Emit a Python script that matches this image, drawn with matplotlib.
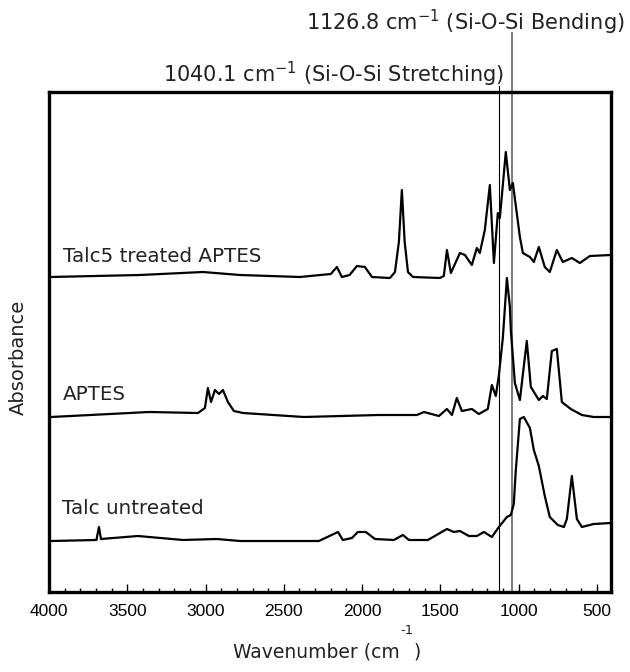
import numpy as np
import matplotlib
matplotlib.use("Agg")
import matplotlib.pyplot as plt
from matplotlib.ticker import MultipleLocator

# wavenumber (cm-1) and absorbance (a.u., offset stacked)
wn_treated = [3994, 3419, 3017, 2780, 2397, 2200, 2161, 2129, 2080, 2033, 1982, 1937,
              1822, 1790, 1765, 1746, 1728, 1707, 1675, 1503, 1478, 1458, 1433, 1375,
              1343, 1299, 1267, 1248, 1216, 1184, 1158, 1133, 1120, 1082, 1056, 1037,
              992, 973, 928, 903, 871, 833, 801, 756, 718, 660, 609, 545, 411]
ab_treated = [3.15, 3.17, 3.20, 3.17, 3.15, 3.18, 3.25, 3.15, 3.17, 3.26, 3.25, 3.15,
              3.14, 3.20, 3.50, 4.02, 3.50, 3.20, 3.15, 3.14, 3.16, 3.42, 3.19, 3.39,
              3.37, 3.27, 3.44, 3.39, 3.62, 4.07, 3.29, 3.79, 3.74, 4.40, 4.02, 4.09,
              3.55, 3.39, 3.35, 3.30, 3.45, 3.25, 3.20, 3.42, 3.30, 3.34, 3.29, 3.36, 3.37]

wn_aptes = [3987, 3361, 3048, 3004, 2985, 2965, 2940, 2914, 2889, 2857, 2819, 2761,
            2372, 1893, 1650, 1605, 1509, 1458, 1426, 1395, 1363, 1299, 1254, 1197,
            1171, 1146, 1126, 1101, 1075, 1056, 1050, 1024, 992, 948, 922, 871, 845,
            820, 788, 756, 724, 667, 596, 520, 411]
ab_aptes = [1.75, 1.80, 1.79, 1.84, 2.04, 1.90, 2.02, 1.98, 2.02, 1.90, 1.81, 1.79,
            1.75, 1.77, 1.77, 1.80, 1.76, 1.83, 1.77, 1.94, 1.81, 1.83, 1.78, 1.83,
            2.07, 1.96, 2.17, 2.54, 3.14, 2.85, 2.62, 2.09, 1.92, 2.51, 2.05, 1.92, 1.96,
            1.93, 2.41, 2.43, 1.90, 1.83, 1.77, 1.75, 1.75]

wn_talc = [3987, 3697, 3681, 3668, 3432, 3144, 2927, 2780, 2276, 2154, 2123, 2065,
           2027, 1976, 1918, 1797, 1739, 1701, 1580, 1458, 1414, 1375, 1318, 1267,
           1222, 1171, 1126, 1075, 1050, 1031, 1018, 992, 967, 928, 903, 871, 833,
           801, 750, 711, 692, 660, 628, 596, 520, 411]
ab_talc = [0.51, 0.52, 0.65, 0.53, 0.56, 0.52, 0.53, 0.51, 0.51, 0.60, 0.52, 0.54,
           0.60, 0.60, 0.53, 0.52, 0.57, 0.52, 0.52, 0.63, 0.60, 0.61, 0.56, 0.56,
           0.60, 0.55, 0.65, 0.75, 0.77, 0.88, 1.22, 1.73, 1.75, 1.64, 1.42, 1.26, 0.96,
           0.75, 0.67, 0.65, 0.73, 1.16, 0.73, 0.65, 0.68, 0.69]

names = ["Talc5 treated APTES", "APTES", "Talc untreated"]
name_pos = [(3911, 3.36), (3911, 1.98), (3920, 0.84)]

band_wn = [1126.8, 1040.1]
band_top = [5.06, 5.59]

fig = plt.figure(figsize=(6.3, 6.72), dpi=100)
ax = fig.add_axes([49/630, 80/672, 562/630, 500/672])

for w, a in [(wn_treated, ab_treated), (wn_aptes, ab_aptes), (wn_talc, ab_talc)]:
    ax.plot(w, a, color="black", lw=1.6)

for n, (x, y) in zip(names, name_pos):
    ax.text(x, y, n, fontsize=14.3, color="#222222", va="center", ha="left")

ax.plot([band_wn[0], band_wn[0]], [0, band_top[0]], color="black", lw=0.8, clip_on=False, zorder=1)
ax.plot([band_wn[1], band_wn[1]], [0, band_top[1]], color="#808080", lw=1.5, clip_on=False, zorder=1)

ax.set_xlim(4000, 410)
ax.set_ylim(0, 5)
ax.set_yticks([])
ax.xaxis.set_major_locator(MultipleLocator(500))
ax.xaxis.set_minor_locator(MultipleLocator(100))
ax.tick_params(axis="x", which="major", direction="in", length=6, width=1, pad=9,
               labelsize=12.5)
ax.tick_params(axis="x", which="minor", direction="in", length=3, width=1)
for lab in ax.get_xticklabels():
    lab.set_fontfamily("Liberation Sans")
for s in ax.spines.values():
    s.set_linewidth(2.4)

fig.text(625/630, 1 - 22/672, "1126.8 cm$^{-1}$ (Si-O-Si Bending)", fontsize=15,
         ha="right", va="center", color="#222222")
fig.text(163/630, 1 - 74/672, "1040.1 cm$^{-1}$ (Si-O-Si Stretching)", fontsize=15,
         ha="left", va="center", color="#222222")
fig.text(18/630, 1 - 357/672, "Absorbance", fontsize=14, rotation=90,
         ha="center", va="center", color="#222222")
fig.text(400/630, 1 - 652/672, "Wavenumber (cm", fontsize=13.5, ha="right", va="center",
         color="#222222")
fig.text(407/630, 1 - 630/672, "-1", fontsize=9.5, ha="center", va="center", color="#222222")
fig.text(414/630, 1 - 652/672, ")", fontsize=13.5, ha="left", va="center", color="#222222")

fig.savefig("out.png", dpi=100)
